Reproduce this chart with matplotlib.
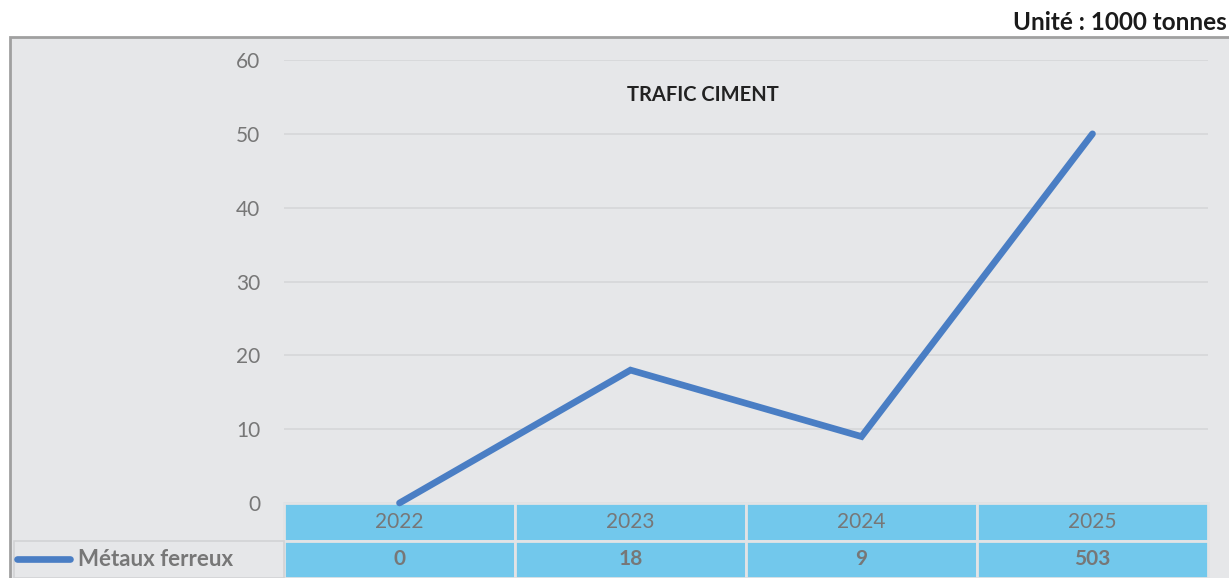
import matplotlib
matplotlib.use("Agg")
import matplotlib.pyplot as plt
from matplotlib.patches import Rectangle
from matplotlib.lines import Line2D
import matplotlib.transforms as mtransforms

years = ["2022", "2023", "2024", "2025"]
values = [0, 18, 9, 50]
table_labels = ["0", "18", "9", "503"]
series_name = "Métaux ferreux"
title = "TRAFIC CIMENT"
unit = "Unité : 1000 tonnes"
yticks = [0, 10, 20, 30, 40, 50, 60]

plt.rcParams['font.family'] = ['Lato', 'DejaVu Sans']

W, H = 1229, 578
fig = plt.figure(figsize=(W / 100, H / 100), dpi=100)
fig.patch.set_facecolor("white")

bg = "#e6e7e9"
gray_txt = "#777777"
line_col = "#4a7ec4"
cell_col = "#72c8ec"

# outer chart frame (background axes)
bax = fig.add_axes([0, 0, 1, 1], zorder=-10)
bax.set_xlim(0, W)
bax.set_ylim(H, 0)
bax.axis("off")
bax.add_patch(Rectangle((10, 37), 1400, 700, facecolor=bg, edgecolor="#a0a0a0",
                        linewidth=2, clip_on=False))

left, right = 284 / W, 1208 / W
bottom, top = 1 - 503 / H, 1 - 60 / H
ax = fig.add_axes([left, bottom, right - left, top - bottom])
ax.set_facecolor("none")

x = list(range(len(years)))
ax.plot(x, values, color=line_col, linewidth=4.8, solid_capstyle="round",
        solid_joinstyle="miter", clip_on=False, zorder=5)

ax.set_xlim(-0.5, len(years) - 0.5)
ax.set_ylim(0, 60)
ax.set_yticks(yticks)
ax.set_yticklabels([str(t) for t in yticks])
ax.tick_params(axis="y", length=0, pad=17, labelsize=15, labelcolor=gray_txt)
ax.tick_params(axis="x", length=0, labelbottom=False)
for s in ax.spines.values():
    s.set_visible(False)
ax.yaxis.grid(True, color="#d6d7d9", linewidth=1.2)
ax.set_axisbelow(True)
ax.set_xticks([])

# data table
ax_h_px = 503 - 60
row_h = 37.5 / ax_h_px
trans = mtransforms.blended_transform_factory(ax.transData, ax.transAxes)
for i, (yr, lab) in enumerate(zip(years, table_labels)):
    for r, (txt, weight) in enumerate([(yr, "normal"), (lab, "bold")]):
        y0 = -row_h * (r + 1)
        ax.add_patch(Rectangle((i - 0.5, y0), 1, row_h, transform=trans,
                               facecolor=cell_col, edgecolor="#e2e3e5", linewidth=2,
                               clip_on=False, zorder=3))
        ax.text(i, y0 + row_h / 2, txt, transform=trans, ha="center", va="center",
                fontsize=15, color=gray_txt, fontweight=weight, zorder=4)

# legend cell
axt = ax.transAxes
lx0 = (14 / W - left) / (right - left)
ax.add_patch(Rectangle((lx0, -2 * row_h), -lx0, row_h, transform=axt,
                       facecolor=bg, edgecolor="#d2d3d5", linewidth=1.2,
                       clip_on=False, zorder=3))
ly = -1.5 * row_h
l1 = (17 / W - left) / (right - left)
l2 = (70 / W - left) / (right - left)
ax.add_line(Line2D([l1, l2], [ly, ly], transform=axt, color=line_col, linewidth=4.8,
                   solid_capstyle="round", clip_on=False, zorder=4))
ax.text((78 / W - left) / (right - left), ly, series_name, transform=axt,
        ha="left", va="center", fontsize=16, color=gray_txt, fontweight="bold", zorder=4)

fig.text(703 / W, 1 - 95 / H, title, ha="center", va="center", fontsize=14.5,
         fontweight="bold", color="#222222")
fig.text(1227 / W, 1 - 22 / H, unit, ha="right", va="center", fontsize=17.5,
         fontweight="bold", color="#1a1a1a")

fig.savefig("out.png", dpi=100, facecolor="white")
